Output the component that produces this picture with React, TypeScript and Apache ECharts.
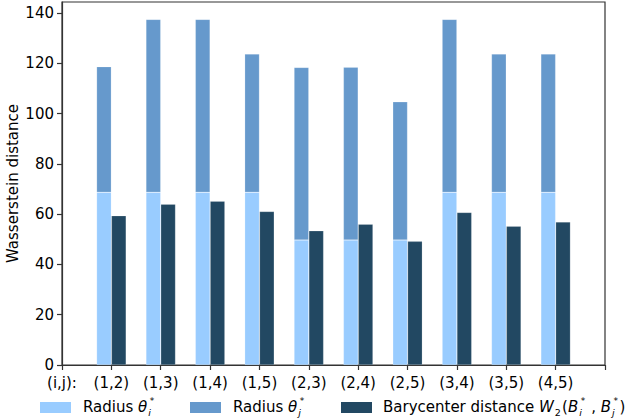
import React, { useEffect, useRef } from "react";
import * as echarts from "echarts";

const categories = ["(i,j):", "(1,2)", "(1,3)", "(1,4)", "(1,5)", "(2,3)", "(2,4)", "(2,5)", "(3,4)", "(3,5)", "(4,5)", ""];
const radiusI: (number | string)[] = ["-", 68.7, 68.7, 68.7, 68.7, 49.7, 49.7, 49.7, 68.7, 68.7, 68.7, "-"];
const radiusJ: (number | string)[] = ["-", 50.0, 68.8, 68.8, 55.0, 68.7, 68.8, 55.0, 68.8, 55.0, 55.0, "-"];
const barycenter: (number | string)[] = ["-", 59.4, 64.0, 65.2, 61.1, 53.4, 56.0, 49.2, 60.7, 55.2, 56.9, "-"];
const yTicks = [0, 20, 40, 60, 80, 100, 120, 140];

const C_LIGHT = "#99ccff";
const C_MID = "#6699cc";
const C_DARK = "#224862";
const FONT = "DejaVu Sans";
const FS = 15;
const SUB_FS = 9.5;
const SUP_FS = 9;

type Piece = { t?: string; it?: boolean; sub?: string; sup?: string; subIt?: boolean };

function measure(ctx: CanvasRenderingContext2D, t: string, size: number, it: boolean) {
  ctx.font = `${it ? "italic " : ""}${size}px "${FONT}"`;
  return ctx.measureText(t).width;
}

function textEl(x: number, y: number, t: string, size: number, it: boolean) {
  return {
    type: "text",
    x,
    y,
    style: { text: t, fill: "#000", font: `${it ? "italic " : ""}${size}px "${FONT}"`, verticalAlign: "middle", align: "left" },
  };
}

function layoutText(ctx: CanvasRenderingContext2D, x0: number, y0: number, pieces: Piece[]) {
  const els: any[] = [];
  let x = x0;
  for (const p of pieces) {
    if (p.t !== undefined) {
      els.push(textEl(x, y0, p.t, FS, !!p.it));
      x += measure(ctx, p.t, FS, !!p.it);
    } else {
      const sx = x + 1;
      let w = 0;
      if (p.sub) {
        els.push(textEl(sx, y0 + 5.5, p.sub, SUB_FS, !!p.subIt));
        w = Math.max(w, measure(ctx, p.sub, SUB_FS, !!p.subIt));
      }
      if (p.sup) {
        els.push(textEl(sx + 1.5, y0 - 5.6, p.sup, SUP_FS, false));
        w = Math.max(w, measure(ctx, p.sup, SUP_FS, false) + 1.5);
      }
      x = sx + w + 1.3;
    }
  }
  return els;
}

export default function App() {
  const ref = useRef<HTMLDivElement>(null);
  useEffect(() => {
    if (!ref.current) return;
    const chart = echarts.init(ref.current, null, { renderer: "svg" });
    const ctx = document.createElement("canvas").getContext("2d") as CanvasRenderingContext2D;
    const ly = 406.5;
    const legendEls: any[] = [
      { type: "rect", shape: { x: 40, y: 402, width: 31, height: 11 }, style: { fill: C_LIGHT } },
      { type: "rect", shape: { x: 190, y: 402, width: 31, height: 11 }, style: { fill: C_MID } },
      { type: "rect", shape: { x: 341, y: 402, width: 31, height: 11 }, style: { fill: C_DARK } },
      ...layoutText(ctx, 83, ly, [{ t: "Radius " }, { t: "θ", it: true }, { sub: "i", subIt: true, sup: "*" }]),
      ...layoutText(ctx, 233, ly, [{ t: "Radius " }, { t: "θ", it: true }, { sub: "j", subIt: true, sup: "*" }]),
      ...layoutText(ctx, 383, ly, [
        { t: "Barycenter distance " },
        { t: "W", it: true },
        { sub: "2" },
        { t: "(" },
        { t: "B", it: true },
        { sub: "i", subIt: true, sup: "*" },
        { t: " , " },
        { t: "B", it: true },
        { sub: "j", subIt: true, sup: "*" },
        { t: ")" },
      ]),
    ];
    const barStyle = (c: string) => ({ color: c, borderColor: "rgba(255,255,255,0.3)", borderWidth: 0.6 });
    chart.setOption({
      animation: false,
      textStyle: { fontFamily: FONT },
      grid: {
        left: 62,
        right: 21,
        top: 2,
        bottom: 55,
        containLabel: false,
        outerBoundsMode: "none",
        show: true,
        borderColor: "#333",
        borderWidth: 1.2,
        backgroundColor: "transparent",
      },
      xAxis: {
        type: "category",
        data: categories,
        boundaryGap: false,
        axisLine: { lineStyle: { color: "#333", width: 1.2 } },
        axisTick: { show: true, length: 5, inside: false, lineStyle: { color: "#333", width: 1.2 }, interval: 0 },
        axisLabel: { color: "#000", fontSize: FS, fontFamily: FONT, margin: 10, interval: 0 },
        splitLine: { show: false },
      },
      yAxis: {
        type: "value",
        min: 0,
        max: 144.4,
        interval: 20,
        name: "Wasserstein distance",
        nameLocation: "middle",
        nameGap: 42,
        nameMoveOverlap: false,
        nameTextStyle: { color: "#000", fontSize: FS, fontFamily: FONT },
        axisLine: { show: true, lineStyle: { color: "#333", width: 1.2 } },
        axisTick: { show: true, length: 5, lineStyle: { color: "#333", width: 1.2 }, customValues: yTicks },
        axisLabel: { color: "#000", fontSize: FS, fontFamily: FONT, margin: 8, customValues: yTicks },
        splitLine: { show: false },
      },
      series: [
        { name: "Radius θi*", type: "bar", stack: "r", data: radiusI, barWidth: 14.8, barGap: "0%", itemStyle: barStyle(C_LIGHT) },
        { name: "Radius θj*", type: "bar", stack: "r", data: radiusJ, barWidth: 14.8, barGap: "0%", itemStyle: barStyle(C_MID) },
        { name: "Barycenter distance", type: "bar", data: barycenter, barWidth: 14.8, barGap: "0%", itemStyle: barStyle(C_DARK) },
      ],
      graphic: legendEls,
    });
    return () => chart.dispose();
  }, []);
  return <div ref={ref} style={{ width: 626, height: 420, position: "absolute", left: 0, top: 0 }} />;
}
